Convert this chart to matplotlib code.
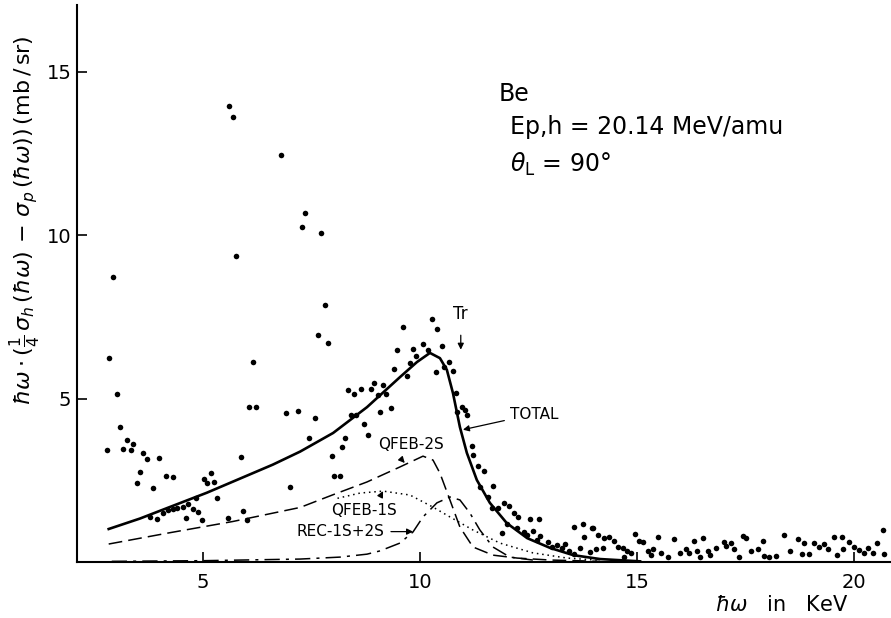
import matplotlib
matplotlib.use("Agg")
import matplotlib.pyplot as plt

# measured points (hbar omega in keV, cross-section difference in mb/sr)
pts_x = [5.60, 5.69, 6.80, 5.76, 2.93, 7.35, 7.28, 7.72, 2.83, 2.79, 3.02, 3.09, 3.16, 3.25,
         3.34, 3.39, 3.48, 3.55, 3.62, 3.71, 3.85, 3.99, 4.15, 4.31, 3.78, 3.94, 4.08, 4.19,
         4.31, 4.40, 4.54, 4.61, 4.65, 4.77, 4.84, 4.88, 4.98, 5.02, 5.09, 5.18, 5.25, 5.32,
         5.58, 5.88, 5.92, 6.01, 6.06, 6.22, 6.15, 6.91, 7.00, 7.19,
         7.81, 7.65, 7.88, 9.61, 10.28, 10.39, 9.47, 9.84, 10.07, 10.18, 9.91, 9.77, 10.51,
         9.40, 9.70, 10.37, 10.67, 10.76, 10.55, 8.34, 8.48, 8.64, 8.87, 8.94, 9.15, 9.03,
         9.22, 9.33, 9.08, 8.41, 8.53, 7.58, 8.71, 8.80, 7.44, 8.27, 8.20, 7.97, 8.02, 8.16,
         10.83, 10.97, 11.04, 10.85, 11.08, 11.20, 11.22, 11.34, 11.47, 11.38, 11.68, 11.57,
         11.66, 11.80, 11.94, 12.05, 12.17, 12.26, 12.53, 12.74, 11.89, 12.00, 12.24, 12.40,
         12.47, 12.60, 12.70, 12.76, 12.95, 13.04, 13.16, 13.27, 13.34, 13.43, 13.55, 13.76,
         13.78, 13.96, 13.69, 13.92, 14.06, 13.55,
         13.99, 14.10, 14.24, 14.35, 14.47, 14.22, 14.56, 14.68, 14.77, 14.86, 14.70, 14.95,
         15.05, 15.14, 15.25, 15.37, 15.32, 15.48, 15.55, 15.71, 15.85, 15.99, 16.13, 16.20,
         16.31, 16.38, 16.52, 16.45, 16.64, 16.68, 16.82, 17.00, 17.05, 17.17, 17.24, 17.35,
         17.44, 17.51, 17.63, 17.79, 17.90, 17.93, 18.04, 18.20, 18.39, 18.53, 18.71, 18.85,
         18.80, 18.96, 19.08, 19.19, 19.31, 19.40, 19.54, 19.61, 19.72, 19.75, 19.88, 20.00,
         20.12, 20.23, 20.32, 20.44, 20.53, 20.67, 20.69]
pts_y = [13.96, 13.62, 12.46, 9.37, 8.72, 10.68, 10.25, 10.07, 6.24, 3.43, 5.14, 4.13, 3.46, 3.73,
         3.43, 3.61, 2.42, 2.75, 3.34, 3.15, 2.27, 3.18, 2.63, 2.60, 1.38, 1.32, 1.50, 1.59,
         1.62, 1.65, 1.68, 1.35, 1.78, 1.62, 1.96, 1.53, 1.29, 2.54, 2.42, 2.72, 2.45, 1.96,
         1.35, 3.21, 1.56, 1.29, 4.74, 4.74, 6.12, 4.56, 2.30, 4.62,
         7.87, 6.95, 6.70, 7.19, 7.44, 7.13, 6.49, 6.52, 6.67, 6.49, 6.31, 6.09, 6.61,
         5.91, 5.69, 5.82, 6.12, 5.85, 5.97, 5.26, 5.14, 5.30, 5.30, 5.48, 5.42, 5.11,
         5.14, 4.71, 4.59, 4.50, 4.50, 4.41, 4.22, 3.89, 3.80, 3.80, 3.52, 3.24, 2.63, 2.63,
         5.17, 4.74, 4.65, 4.59, 4.50, 3.55, 3.28, 2.94, 2.79, 2.30, 2.33, 1.99,
         1.65, 1.65, 1.81, 1.71, 1.50, 1.38, 1.32, 1.32, 0.89, 1.16, 1.04, 0.92,
         0.83, 0.95, 0.67, 0.80, 0.61, 0.46, 0.52, 0.43, 0.55, 0.34, 1.07, 1.16,
         0.77, 1.04, 0.43, 0.31, 0.40, 0.24,
         1.04, 0.83, 0.73, 0.77, 0.64, 0.43, 0.46, 0.43, 0.34, 0.28, 0.15, 0.86,
         0.64, 0.61, 0.34, 0.40, 0.21, 0.77, 0.28, 0.15, 0.70, 0.28, 0.40, 0.28,
         0.64, 0.34, 0.73, 0.15, 0.34, 0.21, 0.43, 0.61, 0.49, 0.58, 0.40, 0.15,
         0.80, 0.73, 0.34, 0.40, 0.64, 0.18, 0.15, 0.18, 0.83, 0.34, 0.70, 0.58,
         0.24, 0.24, 0.58, 0.46, 0.55, 0.40, 0.77, 0.21, 0.77, 0.40, 0.61, 0.46,
         0.37, 0.28, 0.43, 0.28, 0.58, 0.98, 0.24]

# calculated curves
total_x = [2.83, 3.55, 4.31, 5.09, 5.85, 6.61, 7.24, 8.00, 8.78, 9.54, 9.93, 10.23, 10.46,
           10.62, 10.76, 10.92, 11.08, 11.31, 11.61, 12.00, 12.47, 13.00, 13.53, 14.15, 15.07]
total_y = [1.01, 1.33, 1.72, 2.12, 2.55, 2.98, 3.38, 3.95, 4.74, 5.66, 6.12, 6.40, 6.24,
           5.88, 5.17, 4.13, 3.34, 2.51, 1.81, 1.19, 0.73, 0.43, 0.21, 0.09, 0.02]

qfeb2s_x = [2.83, 4.17, 5.69, 7.24, 8.00, 8.78, 9.54, 10.07, 10.30, 10.46, 10.69, 10.92,
            11.22, 11.68, 12.24, 13.00, 14.15]
qfeb2s_y = [0.55, 0.88, 1.24, 1.67, 2.06, 2.45, 2.91, 3.24, 3.12, 2.72, 1.90, 1.07,
            0.46, 0.21, 0.12, 0.06, 0.02]

qfeb1s_x = [8.10, 8.62, 9.15, 9.77, 10.30, 10.69, 11.22, 11.84, 12.60, 13.39, 14.15]
qfeb1s_y = [1.95, 2.11, 2.17, 2.05, 1.68, 1.38, 0.98, 0.58, 0.28, 0.12, 0.05]

rec_x = [2.90, 5.00, 7.24, 8.16, 8.78, 9.08, 9.54, 9.84, 10.07, 10.39, 10.69, 10.92, 11.15,
         11.38, 11.68, 12.07, 12.60]
rec_y = [0.02, 0.04, 0.09, 0.15, 0.24, 0.34, 0.58, 0.92, 1.38, 1.81, 1.99, 1.90, 1.50,
         0.98, 0.46, 0.15, 0.06]

x_ticks = [5, 10, 15, 20]
y_ticks = [5, 10, 15]

fig = plt.figure(figsize=(8.91, 6.18), dpi=100)
ax = fig.add_axes([77 / 891, 56 / 618, 1 - 77 / 891, 557 / 618])

ax.scatter(pts_x, pts_y, s=16, color="black", zorder=3, linewidths=0)
ax.plot(total_x, total_y, color="black", lw=1.9)
ax.plot(qfeb2s_x, qfeb2s_y, color="black", lw=1.1, linestyle=(0, (9, 4)))
ax.plot(qfeb1s_x, qfeb1s_y, color="black", lw=1.1, linestyle=(0, (1, 2.5)))
ax.plot(rec_x, rec_y, color="black", lw=1.1, linestyle=(0, (10, 4, 2, 4)))

ax.set_xlim(2.1, 20.85)
ax.set_ylim(0, 17.05)
ax.set_xticks(x_ticks)
ax.set_yticks(y_ticks)
ax.tick_params(direction="in", length=7, width=1.2, labelsize=14, pad=8)
ax.tick_params(axis="y", pad=4)
for side in ("top", "right"):
    ax.spines[side].set_visible(False)
for side in ("left", "bottom"):
    ax.spines[side].set_linewidth(1.5)

# curve labels
arrow = dict(arrowstyle="-|>", lw=0.9, color="black", mutation_scale=9)
ax.annotate("Tr", xy=(10.94, 6.5), xytext=(10.94, 7.6), ha="center", va="center",
            fontsize=12, arrowprops=dict(arrow, shrinkA=7, shrinkB=0))
ax.annotate("TOTAL", xy=(10.99, 4.05), xytext=(12.07, 4.53), ha="left", va="center",
            fontsize=11, arrowprops=dict(arrow, shrinkA=2, shrinkB=0))
ax.annotate("QFEB-2S", xy=(9.65, 3.03), xytext=(9.79, 3.61), ha="center", va="center",
            fontsize=11, arrowprops=dict(arrow, shrinkA=4, shrinkB=0,
                                         relpos=(0.25, 0.0)))
ax.annotate("QFEB-1S", xy=(9.15, 2.17), xytext=(8.71, 1.59), ha="center", va="center",
            fontsize=11, arrowprops=dict(arrow, shrinkA=4, shrinkB=0,
                                         relpos=(0.7, 1.0)))
ax.annotate("REC-1S+2S", xy=(9.84, 0.93), xytext=(8.16, 0.93), ha="center", va="center",
            fontsize=11, arrowprops=dict(arrow, shrinkA=3, shrinkB=0,
                                         relpos=(1.0, 0.5)))

ax.text(11.82, 14.33, "Be", fontsize=17, va="center", ha="left")
ax.text(12.07, 13.32, "Ep,h = 20.14 MeV/amu", fontsize=17, va="center", ha="left")
ax.text(12.07, 12.18, r"$\theta_{\mathrm{L}}$ = 90°", fontsize=17, va="center", ha="left")

fig.text(0.028, 0.644,
         r"$\hbar\omega\cdot(\frac{1}{4}\,\sigma_h\,(\hbar\omega)\,-\,\sigma_p\,(\hbar\omega))\,(\mathrm{mb\,/\,sr})$",
         rotation=90, ha="center", va="center", fontsize=16)
fig.text(0.877, 0.021, r"$\hbar\omega$   in   KeV", ha="center", va="center", fontsize=15)

fig.savefig("out.png", dpi=100)
